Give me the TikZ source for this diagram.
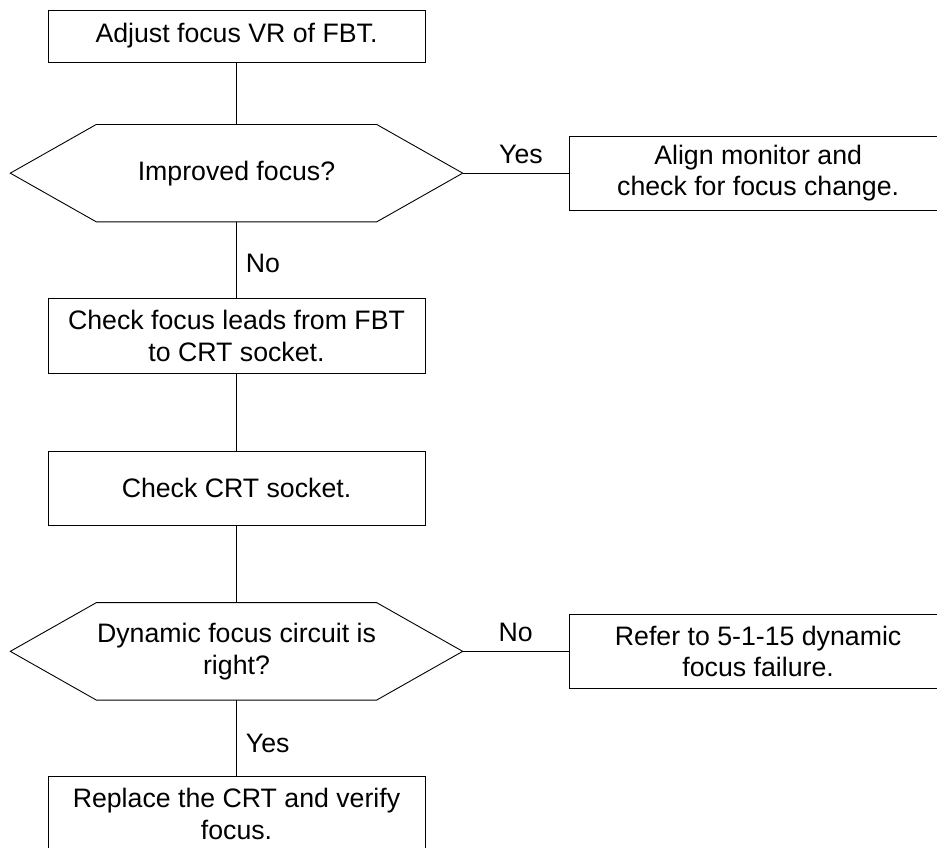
\documentclass[tikz,border=0pt]{standalone}
\usepackage{fontspec}
\setmainfont{Liberation Sans}
\usetikzlibrary{positioning}
\newcommand{\chartfont}{\fontsize{26.7}{31.7}\selectfont}
% hexagon outline round a (not drawn) decision node
\newcommand{\hexframe}[1]{%
  \draw[line] (#1.west) -- ([xshift=86pt]#1.north west) -- ([xshift=-86pt]#1.north east)
    -- (#1.east) -- ([xshift=-86pt]#1.south east) -- ([xshift=86pt]#1.south west) -- cycle;}
\tikzset{
  stepbox/.style={
    draw,
    rectangle,
    line width=0.9pt,
    minimum width=377pt,
    minimum height=75pt,
    inner sep=0pt,
    align=center,
    font=\chartfont
  },
  decision/.style={
    rectangle,
    minimum width=452pt,
    minimum height=97pt,
    inner sep=0pt,
    align=center,
    font=\chartfont
  },
  line/.style={line width=0.9pt},
  answer/.style={font=\chartfont, inner sep=9pt}
}

\begin{document}
\begin{tikzpicture}[
    node distance=76pt and 106pt
]
\clip (0,0) rectangle (937pt,-847pt);

\node[stepbox, minimum height=52pt] (b1) at (236.5pt,-36pt) {Adjust focus VR of FBT.};
\node[decision, below=62pt of b1] (h1) {Improved focus?};
\node[stepbox, right=of h1, minimum width=378pt, minimum height=74pt] (r1) {Align monitor and\\check for focus change.};
\node[stepbox, below=of h1] (b2) {Check focus leads from FBT\\to CRT socket.};
\node[stepbox, below=77pt of b2, minimum height=74pt] (b3) {Check CRT socket.};
\node[decision, below=77pt of b3] (h2) {Dynamic focus circuit is\\right?};
\node[stepbox, right=of h2, minimum width=378pt, minimum height=74pt] (r2) {Refer to 5-1-15 dynamic\\focus failure.};
\node[stepbox, below=of h2] (b4) {Replace the CRT and verify\\focus.};

\hexframe{h1}
\hexframe{h2}

\draw[line] (b1) -- (h1);
\draw[line] (h1) -- node[answer, above, pos=0.55] {Yes} (r1);
\draw[line] (h1) -- node[answer, right, pos=0.55] {No} (b2);
\draw[line] (b2) -- (b3);
\draw[line] (b3) -- (h2);
\draw[line] (h2) -- node[answer, above] {No} (r2);
\draw[line] (h2) -- node[answer, right, pos=0.57] {Yes} (b4);
\end{tikzpicture}
\end{document}
